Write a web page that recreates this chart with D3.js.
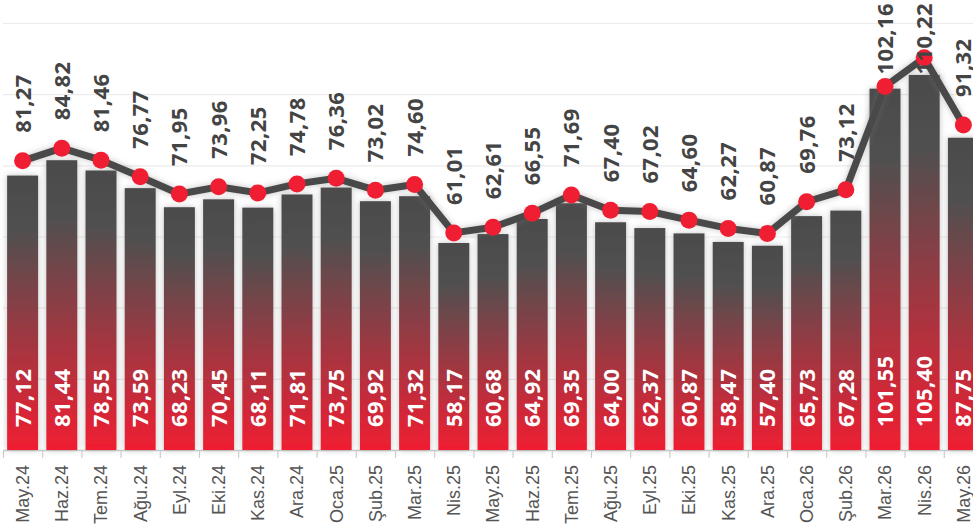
<!DOCTYPE html>
<html lang="tr">
<head>
<meta charset="utf-8">
<script src="https://d3js.org/d3.v7.min.js"></script>
<title>Bar + line</title>
<style>
  body { margin: 0; background: #fff; }
  svg { display: block; font-family: "Open Sans", sans-serif; }
</style>
</head>
<body>
<svg width="973" height="532"></svg>
<script>
var months = ["May.24","Haz.24","Tem.24","Ağu.24","Eyl.24","Eki.24","Kas.24","Ara.24","Oca.25","Şub.25","Mar.25",
  "Nis.25","May.25","Haz.25","Tem.25","Ağu.25","Eyl.25","Eki.25","Kas.25","Ara.25","Oca.26","Şub.26","Mar.26","Nis.26","May.26"];
var barValues = [77.12,81.44,78.55,73.59,68.23,70.45,68.11,71.81,73.75,69.92,71.32,
  58.17,60.68,64.92,69.35,64.00,62.37,60.87,58.47,57.40,65.73,67.28,101.55,105.40,87.75];
var lineValues = [81.27,84.82,81.46,76.77,71.95,73.96,72.25,74.78,76.36,73.02,74.60,
  61.01,62.61,66.55,71.69,67.40,67.02,64.60,62.27,60.87,69.76,73.12,102.16,110.22,91.32];
var gridTicks = [0,20,40,60,80,100,120];

var svg = d3.select("svg");
var fmt = function(v) { return v.toFixed(2).replace(".", ","); };

var x = d3.scaleBand().domain(months).range([3, 983]).paddingInner(0.21).paddingOuter(0.105);
var y = d3.scaleLinear().domain([0, 120]).range([450, 23]);

var defs = svg.append("defs");
var grad = defs.append("linearGradient").attr("id", "barGrad")
  .attr("x1", 0).attr("y1", 0).attr("x2", 0).attr("y2", 1);
grad.append("stop").attr("offset", "0%").attr("stop-color", "#4b4b4b");
grad.append("stop").attr("offset", "20%").attr("stop-color", "#505050");
grad.append("stop").attr("offset", "100%").attr("stop-color", "#f01e32");

var sh = defs.append("filter").attr("id", "shadow")
  .attr("x", "-30%").attr("y", "-30%").attr("width", "160%").attr("height", "160%");
sh.append("feDropShadow").attr("dx", 0).attr("dy", 0).attr("stdDeviation", 3)
  .attr("flood-color", "#777").attr("flood-opacity", 0.45);

// grid
svg.append("g").selectAll("line").data(gridTicks).join("line")
  .attr("x1", 3).attr("x2", 973)
  .attr("y1", function(d) { return y(d) + 0.5; }).attr("y2", function(d) { return y(d) + 0.5; })
  .attr("stroke", function(d) { return d === 0 ? "#cccccc" : "#ebebeb"; })
  .attr("stroke-width", function(d) { return d === 0 ? 1.5 : 1.2; });

// bars
svg.append("g").selectAll("rect").data(barValues).join("rect")
  .attr("x", function(d, i) { return x(months[i]); })
  .attr("y", function(d) { return y(d); })
  .attr("width", x.bandwidth())
  .attr("height", function(d) { return y(0) - y(d); })
  .attr("fill", "url(#barGrad)")
  .attr("filter", "url(#shadow)");

// x axis
var xAxis = svg.append("g").attr("transform", "translate(0," + y(0) + ")")
  .call(d3.axisBottom(x).tickSize(0).tickPadding(0));
xAxis.select(".domain").remove();
xAxis.selectAll(".tick text")
  .attr("fill", "#555")
  .style("font-size", "18px")
  .attr("text-anchor", "end")
  .attr("transform", "rotate(-90)")
  .attr("x", -15).attr("y", 0).attr("dy", "0.36em");
svg.append("g").selectAll("line").data(d3.range(months.length + 1)).join("line")
  .attr("x1", function(i) { return 3 + i * x.step() + 0.5; })
  .attr("x2", function(i) { return 3 + i * x.step() + 0.5; })
  .attr("y1", 451).attr("y2", 458)
  .attr("stroke", "#cccccc").attr("stroke-width", 1.2);

// bar labels
svg.append("g").selectAll("text").data(barValues).join("text")
  .attr("transform", function(d, i) { return "translate(" + (x(months[i]) + x.bandwidth() / 2) + "," + (y(0) - 23) + ") rotate(-90)"; })
  .attr("dy", "0.36em")
  .attr("fill", "#fff")
  .style("font-size", "22px").style("font-weight", "bold").style("letter-spacing", "0.4px")
  .text(fmt);

// line
var line = d3.line()
  .x(function(d, i) { return x(months[i]) + x.bandwidth() / 2; })
  .y(function(d) { return y(d); });
svg.append("path").datum(lineValues)
  .attr("d", line)
  .attr("fill", "none").attr("stroke", "#4a4a4a").attr("stroke-width", 7)
  .attr("stroke-linejoin", "round")
  .attr("filter", "url(#shadow)");

svg.append("g").selectAll("circle").data(lineValues).join("circle")
  .attr("cx", function(d, i) { return x(months[i]) + x.bandwidth() / 2; })
  .attr("cy", function(d) { return y(d); })
  .attr("r", 8.5)
  .attr("fill", "#f01e32");

// line labels
var lbl = svg.append("g").selectAll("text").data(lineValues).join("text")
  .attr("dy", "0.36em")
  .attr("fill", "#444")
  .style("font-size", "22px").style("font-weight", "bold").style("letter-spacing", "0.4px")
  .text(fmt);
lbl.attr("transform", function(d, i) {
  var len = this.getComputedTextLength();
  var bottom = Math.max(y(d) - 28, len + 3);
  return "translate(" + (x(months[i]) + x.bandwidth() / 2) + "," + bottom + ") rotate(-90)";
});
</script>
</body>
</html>
